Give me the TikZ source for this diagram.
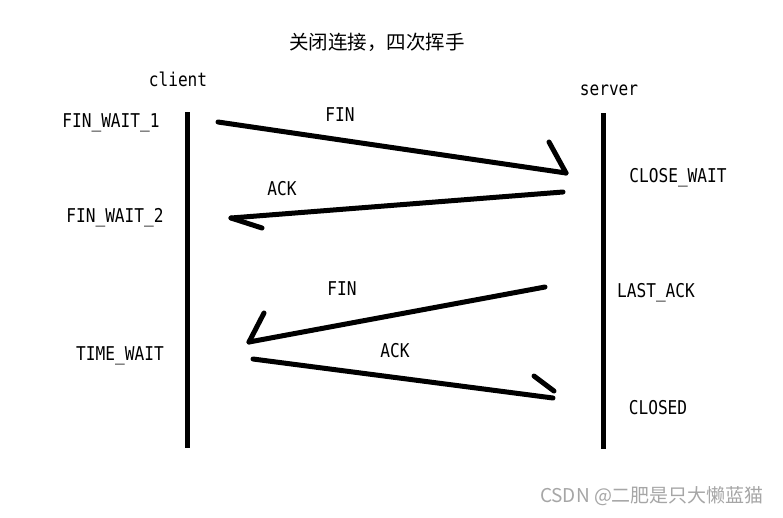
\documentclass[tikz,border=0pt]{standalone}
\usepackage{fontspec}
\newfontfamily\cjk{Noto Sans CJK SC}
\newfontfamily\lab[FakeStretch=0.85]{DejaVu Sans Mono}
\begin{document}
\begin{tikzpicture}[x=1pt,y=-1pt,
  lbl/.style={font=\lab\fontsize{19}{21}\selectfont, inner sep=0pt, anchor=base},
  ttl/.style={font=\cjk\fontsize{19.5}{21}\selectfont, inner sep=0pt},
  wmark/.style={font=\cjk\fontsize{19}{21}\selectfont, text=black!35, inner sep=0pt},
  life/.style={line width=5pt},
  msg/.style={line width=5pt, line cap=round}]
\useasboundingbox[fill=white] (0,0) rectangle (783,517);
% texts
\node[ttl] (title) at (377,42) {关闭连接，四次挥手};
\node[lbl] (client) at (178,86) {client};
\node[lbl] (server) at (609,95) {server};
\node[lbl] (fw1) at (111,127) {FIN\_WAIT\_1};
\node[lbl] (fw2) at (115,222) {FIN\_WAIT\_2};
\node[lbl] (tw) at (120,360) {TIME\_WAIT};
\node[lbl] (cw) at (678,182) {CLOSE\_WAIT};
\node[lbl] (la) at (656,297) {LAST\_ACK};
\node[lbl] (cl) at (658,414) {CLOSED};
\node[lbl] (fin1) at (340,121) {FIN};
\node[lbl] (ack1) at (282,195) {ACK};
\node[lbl] (fin2) at (342,295) {FIN};
\node[lbl] (ack2) at (395,357) {ACK};
\node[wmark] (wm) at (652,496) {CSDN @二肥是只大懒蓝猫};
% lifelines
\coordinate (ctop) at (187,112); \coordinate (cbot) at (187,448);
\coordinate (stop) at (603,113); \coordinate (sbot) at (603,449);
\draw[life] (ctop) -- (cbot);
\draw[life] (stop) -- (sbot);
% message 1: FIN
\coordinate (m1a) at (218,122); \coordinate (m1b) at (566,173); \coordinate (m1h) at (549,142);
\draw[msg] (m1a) -- (m1b);
\draw[msg] (m1h) -- (m1b);
% message 2: ACK
\coordinate (m2a) at (563,192); \coordinate (m2b) at (231,218); \coordinate (m2h) at (262,228);
\draw[msg] (m2a) -- (m2b);
\draw[msg] (m2b) -- (m2h);
% message 3: FIN
\coordinate (m3a) at (545,287); \coordinate (m3b) at (249,342); \coordinate (m3h) at (264,313);
\draw[msg] (m3a) -- (m3b);
\draw[msg] (m3b) -- (m3h);
% message 4: ACK
\coordinate (m4a) at (253,359); \coordinate (m4b) at (553,398);
\coordinate (m4h1) at (534,376); \coordinate (m4h2) at (554,391);
\draw[msg] (m4a) -- (m4b);
\draw[msg] (m4h1) -- (m4h2);
\end{tikzpicture}
\end{document}
